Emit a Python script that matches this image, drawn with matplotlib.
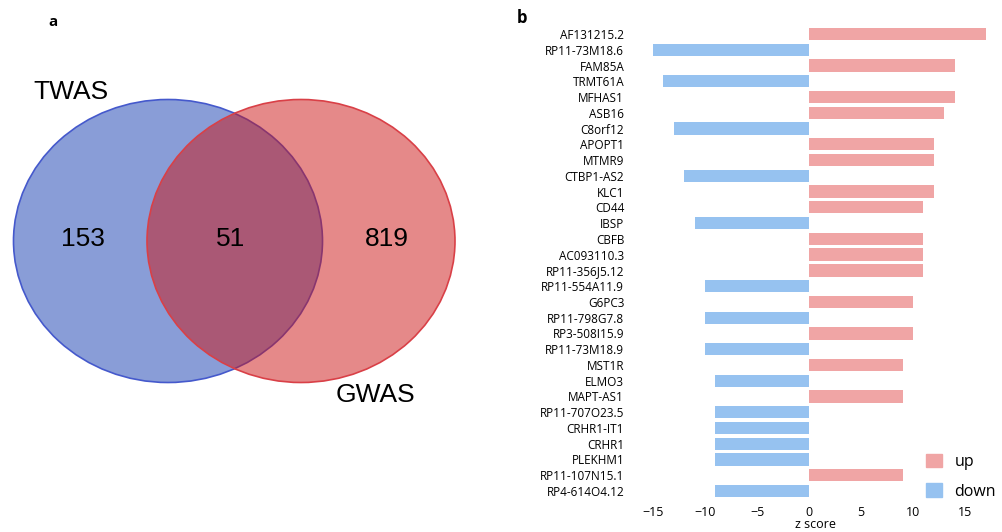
import matplotlib.pyplot as plt
from matplotlib.patches import Ellipse, Patch

plt.rcParams['font.family'] = ['Open Sans', 'DejaVu Sans']

# venn counts: TWAS only, shared, GWAS only
set_names = ["TWAS", "GWAS"]
venn_counts = [153, 51, 819]

# gene z scores, top to bottom
genes = ["AF131215.2", "RP11-73M18.6", "FAM85A", "TRMT61A", "MFHAS1", "ASB16",
         "C8orf12", "APOPT1", "MTMR9", "CTBP1-AS2", "KLC1", "CD44", "IBSP",
         "CBFB", "AC093110.3", "RP11-356J5.12", "RP11-554A11.9", "G6PC3",
         "RP11-798G7.8", "RP3-508I15.9", "RP11-73M18.9", "MST1R", "ELMO3",
         "MAPT-AS1", "RP11-707O23.5", "CRHR1-IT1", "CRHR1", "PLEKHM1",
         "RP11-107N15.1", "RP4-614O4.12"]
z_scores = [17, -15, 14, -14, 14, 13, -13, 12, 12, -12, 12, 11, -11, 11, 11, 11,
            -10, 10, -10, 10, -10, 9, -9, 9, -9, -9, -9, -9, 9, -9]

W, H = 1003, 532
fig = plt.figure(figsize=(W / 100, H / 100), dpi=100)

# ---- panel a: venn diagram, drawn in pixel-like units
ax1 = fig.add_axes([0, 0, 0.5, 1])
ax1.set_xlim(0, W * 0.5)
ax1.set_ylim(H, 0)
ax1.axis('off')

blue = Ellipse((168, 241), 309, 283, facecolor=(0.08, 0.24, 0.69, 0.5),
               edgecolor=(0.27, 0.35, 0.80, 1.0), lw=1.2)
red = Ellipse((301, 241), 308, 283, facecolor=(0.80, 0.08, 0.08, 0.5),
              edgecolor=(0.85, 0.25, 0.28, 1.0), lw=1.2)
ax1.add_patch(blue)
ax1.add_patch(red)

ax1.text(71, 92, set_names[0], fontsize=19, family='Liberation Sans',
         ha='center', va='center')
ax1.text(375, 395, set_names[1], fontsize=19, family='Liberation Sans',
         ha='center', va='center')
for x, n in zip([83, 231, 387], venn_counts):
    ax1.text(x, 239, str(n), fontsize=19, family='Liberation Sans',
             ha='center', va='center')
fig.text(53 / W, 1 - 22 / H, "a", fontsize=11, fontweight='bold',
         ha='center', va='center')

# ---- panel b: z score bars
ax2 = fig.add_axes([639.5 / W, 1 - 502 / H, 351.5 / W, 479 / H])
colors = ['#f0a5a5' if z > 0 else '#96c2f0' for z in z_scores]
ax2.barh(range(len(genes)), z_scores, height=0.78, color=colors)
ax2.set_yticks(range(len(genes)))
ax2.set_yticklabels(genes, fontsize=8.5)
ax2.set_ylim(len(genes) - 0.3, -0.7)
ax2.set_xlim(-16.3, 17.5)
ax2.set_xticks([-15, -10, -5, 0, 5, 10, 15])
ax2.set_xticklabels(['\u221215', '\u221210', '\u22125', '0', '5', '10', '15'],
                    fontsize=9)
ax2.tick_params(axis='y', length=0, pad=11)
ax2.tick_params(axis='x', length=0, pad=3)
for s in ax2.spines.values():
    s.set_visible(False)
ax2.set_xlabel("z score", fontsize=9, labelpad=-1)

handles = [Patch(color='#f0a5a5', label='up'), Patch(color='#96c2f0', label='down')]
ax2.legend(handles=handles, loc='lower right', bbox_to_anchor=(1.055, -0.025),
           frameon=False, fontsize=11.5, handlelength=1.0, handleheight=0.9,
           handletextpad=0.8, labelspacing=0.85)

fig.text(522 / W, 1 - 18 / H, "b", fontsize=12, fontweight='bold',
         ha='center', va='center')

fig.savefig("out.png", dpi=100)
